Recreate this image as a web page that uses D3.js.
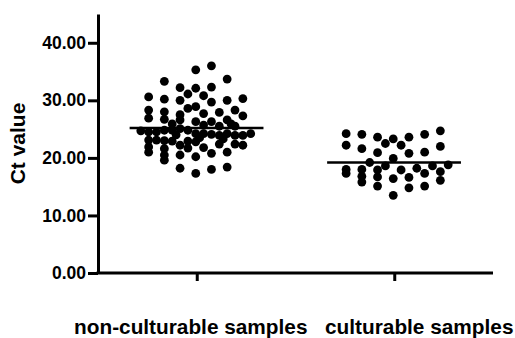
<!DOCTYPE html>
<html lang="en">
<head>
<meta charset="UTF-8">
<title>Ct value scatter</title>
<script src="https://cdn.jsdelivr.net/npm/d3@7/dist/d3.min.js"></script>
<style>
  body { margin: 0; background: #ffffff; }
  svg text { font-family: Arial, "Liberation Sans", sans-serif; font-weight: bold; fill: #000; }
</style>
</head>
<body>
<svg id="mainsvg" width="515" height="338"></svg>
<script>
    // groups on the x axis
    const groups = ['non-culturable samples', 'culturable samples'];
    const yTicks = [0, 10, 20, 30, 40];

    // Ct values, [value, column slot] (slot = horizontal spread of the dot)
    const nonCulturable = [
        [24.7, -7],
        [30.6, -6], [28.3, -6], [26.9, -6], [24.5, -6], [23.1, -6], [21.9, -6], [21.0, -6],
        [24.5, -5], [23.1, -5],
        [33.3, -4], [30.2, -4], [28.0, -4], [26.7, -4], [24.8, -4], [23.0, -4], [21.6, -4], [20.5, -4], [19.6, -4],
        [25.9, -3], [24.8, -3], [22.9, -3],
        [24.0, -2.5],
        [32.2, -2], [30.0, -2], [27.5, -2], [26.6, -2], [25.1, -2], [22.2, -2], [20.5, -2], [18.2, -2],
        [31.1, -1], [28.6, -1], [24.8, -1], [22.9, -1], [21.7, -1],
        [35.3, 0], [32.1, 0], [28.9, 0], [26.3, 0], [24.2, 0], [22.8, 0], [20.2, 0], [17.3, 0],
        [23.5, 0.5],
        [30.8, 1], [27.7, 1], [25.7, 1], [24.2, 1], [21.8, 1],
        [36.0, 2], [32.3, 2], [29.7, 2], [26.3, 2], [24.1, 2], [20.8, 2], [18.0, 2],
        [27.9, 3], [25.5, 3], [23.9, 3], [22.4, 3],
        [23.3, 3.5],
        [33.7, 4], [30.0, 4], [26.6, 4], [24.2, 4], [21.0, 4], [18.4, 4],
        [25.9, 4.5],
        [28.3, 5], [25.5, 5], [23.9, 5], [22.4, 5],
        [30.3, 6], [27.3, 6], [23.9, 6], [22.2, 6],
        [24.2, 7]
    ];
    const culturable = [
        [24.2, -6], [22.2, -6], [18.0, -6], [17.3, -6],
        [24.1, -4], [21.6, -4], [18.0, -4], [16.8, -4], [15.8, -4],
        [19.2, -3],
        [23.6, -2], [20.9, -2], [17.9, -2], [16.7, -2], [15.1, -2],
        [22.5, -1], [18.6, -1],
        [23.3, 0], [19.9, 0], [16.4, 0], [13.5, 0],
        [22.2, 1], [17.9, 1],
        [23.6, 2], [20.8, 2], [16.6, 2], [14.8, 2],
        [18.2, 3],
        [24.1, 4], [21.0, 4], [17.3, 4], [15.1, 4],
        [18.6, 5],
        [24.7, 6], [22.0, 6], [17.6, 6], [16.1, 6],
        [18.8, 7]
    ];
    const groupMeans = [25.2, 19.2];

    const svg = d3.select('#mainsvg');
    const margin = {top: 14, right: 22, bottom: 65, left: 98};
    const width = +svg.attr('width');
    const height = +svg.attr('height');
    const y0 = height - margin.bottom;

    const xScale = d3.scalePoint()
        .domain(groups)
        .range([margin.left, width - margin.right])
        .padding(0.5);
    const yScale = d3.scaleLinear()
        .domain([0, 45])
        .range([y0, margin.top]);
    // column slot -> pixel offset from group centre
    const slotScale = d3.scaleLinear().domain([0, 1]).range([0, 7.85]);

    // dots
    const series = [nonCulturable, culturable];
    series.forEach((pts, i) => {
        svg.append('g').selectAll('circle')
            .data(pts)
            .join('circle')
            .attr('cx', d => xScale(groups[i]) + slotScale(d[1]) - 1)
            .attr('cy', d => yScale(d[0]))
            .attr('r', 4.4)
            .attr('fill', '#000');
    });

    // mean lines
    svg.append('g').selectAll('line')
        .data(groupMeans)
        .join('line')
        .attr('x1', (d, i) => xScale(groups[i]) + slotScale(-8.55))
        .attr('x2', (d, i) => xScale(groups[i]) + slotScale(8.5))
        .attr('y1', d => yScale(d))
        .attr('y2', d => yScale(d))
        .attr('stroke', '#000')
        .attr('stroke-width', 2.5);

    // y axis
    const yAxis = svg.append('g')
        .attr('transform', `translate(${margin.left},0)`)
        .call(d3.axisLeft(yScale).tickValues(yTicks).tickFormat(d3.format('.2f')).tickSize(10).tickPadding(2).tickSizeOuter(0));
    yAxis.selectAll('.domain').attr('stroke-width', 3);
    yAxis.selectAll('.tick line').attr('stroke-width', 3);
    yAxis.selectAll('text').attr('font-size', 17.5);

    // x axis
    const xAxis = svg.append('g')
        .attr('transform', `translate(0,${y0})`)
        .call(d3.axisBottom(xScale).tickSize(8).tickSizeOuter(0).tickFormat(''));
    xAxis.select('.domain').attr('stroke-width', 3)
        .attr('d', `M${margin.left - 1.5},0H${width - margin.right}`);
    xAxis.selectAll('.tick line').attr('stroke-width', 3);

    // category labels
    const labelShift = [-6, 25];
    svg.append('g').selectAll('text')
        .data(groups)
        .join('text')
        .attr('x', (d, i) => xScale(d) + labelShift[i])
        .attr('y', 334)
        .attr('text-anchor', 'middle')
        .attr('font-size', 20.8)
        .text(d => d);

    // y title
    svg.append('text')
        .attr('transform', `translate(25,${(margin.top + y0) / 2}) rotate(-90)`)
        .attr('text-anchor', 'middle')
        .attr('font-size', 21)
        .text('Ct value');
</script>
</body>
</html>
